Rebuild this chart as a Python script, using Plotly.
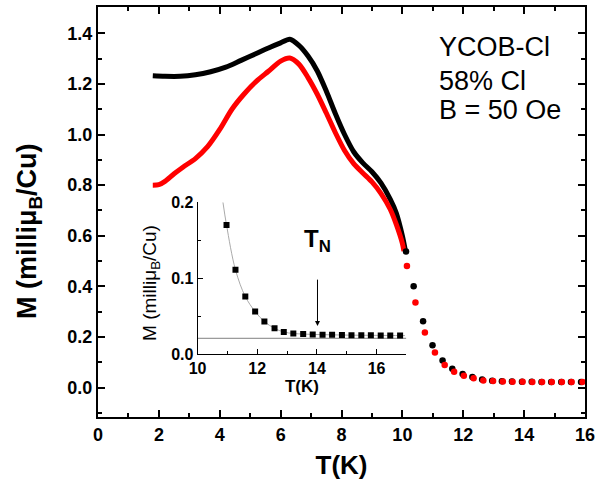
import plotly.graph_objects as go

# ---- main panel data ----
T_black_line = [1.8, 2.2, 2.7, 3.2, 3.7, 4.2, 4.7, 5.2, 5.6, 6.0, 6.3, 6.6, 6.9, 7.2, 7.5,
                7.8, 8.1, 8.4, 8.7, 9.0, 9.3, 9.6, 9.8, 10.0, 10.1]
M_black_line = [1.232, 1.230, 1.230, 1.236, 1.248, 1.266, 1.293, 1.32, 1.342, 1.362, 1.376,
                1.352, 1.31, 1.252, 1.172, 1.082, 1.0, 0.932, 0.888, 0.853, 0.808, 0.745,
                0.69, 0.6, 0.54]

T_red_line = [1.8, 2.0, 2.2, 2.5, 2.8, 3.2, 3.6, 4.0, 4.4, 4.8, 5.2, 5.6, 6.0, 6.3, 6.6, 6.9,
              7.2, 7.5, 7.8, 8.1, 8.4, 8.7, 9.0, 9.3, 9.6, 9.8, 10.0, 10.05]
M_red_line = [0.80, 0.802, 0.815, 0.845, 0.872, 0.905, 0.952, 1.02, 1.1, 1.16, 1.21, 1.25,
              1.29, 1.302, 1.278, 1.225, 1.16, 1.085, 1.007, 0.937, 0.885, 0.848, 0.813,
              0.767, 0.705, 0.645, 0.57, 0.54]

T_black_pts = [10.12, 10.37, 10.68, 10.99, 11.32, 11.64, 11.98, 12.30, 12.62, 12.95, 13.27,
               13.60, 13.93, 14.25, 14.57, 14.89, 15.22, 15.54, 15.87]
M_black_pts = [0.538, 0.401, 0.263, 0.168, 0.108, 0.075, 0.054, 0.042, 0.033, 0.028, 0.026,
               0.025, 0.024, 0.024, 0.023, 0.023, 0.023, 0.023, 0.023]

T_red_pts = [10.15, 10.43, 10.74, 11.07, 11.39, 11.70, 12.02, 12.34, 12.66, 12.98, 13.30,
             13.62, 13.95, 14.27, 14.59, 14.91, 15.24, 15.56, 15.92]
M_red_pts = [0.481, 0.337, 0.218, 0.139, 0.0895, 0.063, 0.047, 0.037, 0.029, 0.027, 0.025,
             0.024, 0.024, 0.023, 0.023, 0.023, 0.023, 0.023, 0.023]

# ---- inset data ----
T_inset = [10.97, 11.27, 11.60, 11.93, 12.24, 12.58, 12.89, 13.21, 13.54, 13.86, 14.19,
           14.51, 14.84, 15.16, 15.49, 15.81, 16.14, 16.46, 16.79]
M_inset = [0.170, 0.111, 0.0757, 0.0559, 0.0427, 0.0338, 0.0290, 0.0270, 0.0263, 0.0258,
           0.0255, 0.0252, 0.0250, 0.0248, 0.0247, 0.0246, 0.0245, 0.0244, 0.0243]
T_fit = [10.85] + T_inset + [16.95]
M_fit = [0.2] + M_inset + [0.0243]
T_base = [10, 17]
M_base = [0.0207, 0.0207]
T_N = 14.02
T_N_arrow = [0.037, 0.10]

info_lines = ["YCOB-Cl", "58% Cl", "B = 50 Oe"]
info_y = [1.345, 1.213, 1.095]

FONT = "Arial, Liberation Sans, sans-serif"

fig = go.Figure()
fig.add_trace(go.Scatter(x=T_black_line, y=M_black_line, mode="lines",
                         line=dict(color="black", width=5, shape="spline", smoothing=0.8),
                         xaxis="x", yaxis="y"))
fig.add_trace(go.Scatter(x=T_red_line, y=M_red_line, mode="lines",
                         line=dict(color="#ff0000", width=5, shape="spline", smoothing=0.8),
                         xaxis="x", yaxis="y"))
fig.add_trace(go.Scatter(x=T_black_pts, y=M_black_pts, mode="markers",
                         marker=dict(color="black", size=6.5), xaxis="x", yaxis="y"))
fig.add_trace(go.Scatter(x=T_red_pts, y=M_red_pts, mode="markers",
                         marker=dict(color="#ff0000", size=6.5), xaxis="x", yaxis="y"))

fig.add_trace(go.Scatter(x=T_base, y=M_base, mode="lines",
                         line=dict(color="#808080", width=1), xaxis="x2", yaxis="y2"))
fig.add_trace(go.Scatter(x=T_fit, y=M_fit, mode="lines",
                         line=dict(color="#aaaaaa", width=1, shape="spline"), xaxis="x2", yaxis="y2"))
fig.add_trace(go.Scatter(x=T_inset, y=M_inset, mode="markers",
                         marker=dict(color="black", size=6, symbol="square"), xaxis="x2", yaxis="y2"))

annotations = [
    dict(text=t, xref="x", yref="y", x=11.13, y=yy, xanchor="left", yanchor="middle",
         showarrow=False, font=dict(size=27, family=FONT, color="black"))
    for t, yy in zip(info_lines, info_y)
]
annotations += [
    dict(text="M (milliμ<sub>B</sub>/Cu)", xref="paper", yref="paper",
         x=(29 - 98) / 487.5, y=(417 - 231) / 410, xanchor="center", yanchor="middle",
         textangle=-90, showarrow=False,
         font=dict(size=27, weight="bold", family=FONT, color="black")),
    dict(text="M (milliμ<sub>B</sub>/Cu)", xref="paper", yref="paper",
         x=(151 - 98) / 487.5, y=(417 - 283) / 410, xanchor="center", yanchor="middle",
         textangle=-90, showarrow=False,
         font=dict(size=19, family=FONT, color="black")),
    dict(text="T<sub>N</sub>", xref="x2", yref="y2", x=T_N, y=0.15,
         xanchor="center", yanchor="middle", showarrow=False,
         font=dict(size=24, weight="bold", family=FONT, color="black")),
    dict(text="", xref="x2", yref="y2", x=T_N, y=T_N_arrow[0],
         axref="x2", ayref="y2", ax=T_N, ay=T_N_arrow[1],
         showarrow=True, arrowhead=2, arrowsize=1, arrowwidth=1, arrowcolor="black"),
]

fig.update_layout(
    width=598, height=485,
    margin=dict(l=98, r=12.5, t=7, b=68, autoexpand=False),
    paper_bgcolor="white", plot_bgcolor="rgba(0,0,0,0)",
    showlegend=False,
    font=dict(family=FONT, color="black"),
    xaxis=dict(range=[0, 16], domain=[0, 1], tickvals=[0, 2, 4, 6, 8, 10, 12, 14, 16],
               showline=True, linecolor="black", linewidth=2, mirror="ticks",
               ticks="inside", ticklen=7, tickwidth=1.5, tickcolor="black",
               minor=dict(dtick=1, ticks="inside", ticklen=4, tickwidth=1.5, tickcolor="black"),
               showgrid=False, zeroline=False, automargin=False,
               tickfont=dict(size=18, weight="bold"),
               title=dict(text="T(K)", font=dict(size=26, weight="bold"), standoff=12)),
    yaxis=dict(range=[-0.1156, 1.5037], domain=[0, 1], tickvals=[0, 0.2, 0.4, 0.6, 0.8, 1.0, 1.2, 1.4],
               tickformat=".1f",
               showline=True, linecolor="black", linewidth=2, mirror="ticks",
               ticks="inside", ticklen=7, tickwidth=1.5, tickcolor="black",
               minor=dict(dtick=0.1, tick0=0, ticks="inside", ticklen=4, tickwidth=1.5, tickcolor="black"),
               showgrid=False, zeroline=False, automargin=False,
               tickfont=dict(size=18, weight="bold")),
    xaxis2=dict(range=[10, 17], domain=[0.2045, 0.6332], anchor="y2",
                tickvals=[10, 12, 14, 16],
                showline=True, linecolor="black", linewidth=1,
                ticks="inside", ticklen=5, tickwidth=1, tickcolor="black",
                minor=dict(dtick=1, tick0=10, ticks="inside", ticklen=3, tickwidth=1, tickcolor="black"),
                showgrid=False, zeroline=False, automargin=False,
                tickfont=dict(size=16, weight="bold"),
                title=dict(text="T(K)", font=dict(size=17, weight="bold"), standoff=1)),
    yaxis2=dict(range=[0, 0.2], domain=[0.1537, 0.5237], anchor="x2",
                tickvals=[0, 0.1, 0.2], tickformat=".1f",
                showline=True, linecolor="black", linewidth=1,
                ticks="inside", ticklen=5, tickwidth=1, tickcolor="black",
                minor=dict(dtick=0.05, tick0=0, ticks="inside", ticklen=3, tickwidth=1, tickcolor="black"),
                showgrid=False, zeroline=False, automargin=False,
                tickfont=dict(size=16, weight="bold")),
    annotations=annotations,
)

fig.write_html("out.html")
